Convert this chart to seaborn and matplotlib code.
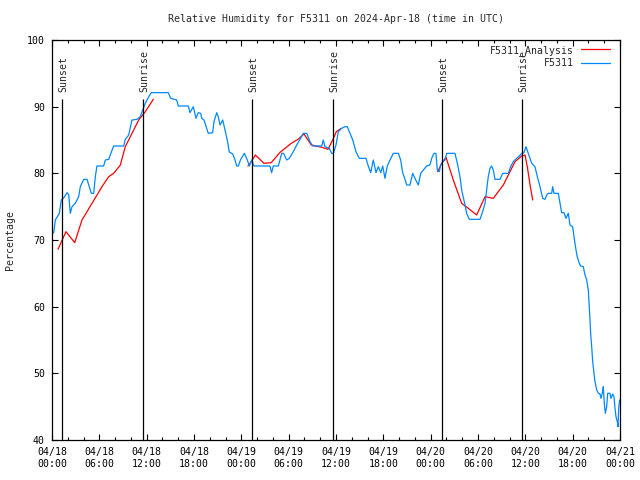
import matplotlib
matplotlib.use("Agg")
import matplotlib.pyplot as plt
from matplotlib.ticker import MultipleLocator
from matplotlib.lines import Line2D
import numpy as np
import pandas as pd
import seaborn as sns

# ---------------- data (hours since 2024-04-18 00:00 UTC) ----------------
obs_hours = [0.22, 0.42, 0.93, 1.18, 1.48, 1.90, 2.12, 2.32, 2.54, 2.95, 3.38, 3.59, 4.02, 4.44,
             4.73, 4.98, 5.29, 5.49, 5.70, 6.55, 6.76, 7.19, 7.52, 7.82, 9.09, 9.29, 9.72, 10.14,
             10.77, 11.19, 11.50, 11.83, 12.26, 12.59, 14.74, 15.05, 15.81, 16.01, 17.28, 17.49,
             17.91, 18.25, 18.54, 18.85, 18.98, 19.27, 19.61, 19.81, 20.37, 20.53, 20.88, 21.08,
             21.30, 21.64, 21.93, 22.22, 22.47, 22.91, 23.20, 23.41, 23.62, 23.92, 24.38, 24.76,
             25.01, 25.31, 25.61, 27.63, 27.84, 28.05, 28.69, 29.12, 29.35, 29.75, 30.08, 30.59,
             31.02, 31.44, 31.85, 32.29, 32.70, 33.05, 34.19, 34.39, 34.60, 35.15, 35.45, 35.66,
             36.00, 36.29, 36.72, 37.14, 37.43, 37.77, 38.12, 38.53, 38.95, 39.80, 40.09, 40.40,
             40.73, 41.07, 41.36, 41.67, 41.92, 42.21, 42.50, 42.85, 43.26, 43.90, 44.20, 44.45,
             44.75, 44.96, 45.38, 45.72, 46.01, 46.43, 46.74, 47.07, 47.50, 47.91, 48.13, 48.42,
             48.67, 48.84, 49.09, 49.27, 49.52, 49.82, 50.03, 51.08, 51.38, 51.72, 51.93, 52.35,
             52.56, 52.89, 54.25, 54.59, 54.89, 55.10, 55.30, 55.52, 55.73, 55.94, 56.15, 56.79,
             57.13, 57.84, 58.14, 58.47, 58.90, 59.23, 59.54, 59.83, 60.08, 60.37, 60.81, 61.22,
             61.52, 61.86, 62.20, 62.49, 62.71, 62.91, 63.34, 63.46, 63.63, 64.18, 64.39, 64.60,
             64.90, 65.15, 65.45, 65.66, 66.00, 66.17, 66.42, 66.58, 66.84, 67.02, 67.35, 67.56,
             67.78, 67.98, 68.11, 68.20, 68.28, 68.41, 68.54, 68.70, 68.83, 69.05, 69.25, 69.46,
             69.59, 69.80, 69.88, 70.01, 70.14, 70.31, 70.44, 70.73, 70.86, 71.07, 71.24, 71.37,
             71.49, 71.66, 71.75, 71.83, 71.96]
obs_rh = [71.05, 73, 74, 76, 76.3, 77.1, 76.8, 74, 75, 75.5, 76.5, 78, 79.1, 79.1,
          78, 77, 77, 79.5, 81.1, 81.1, 82, 82.1, 83.2, 84.1, 84.1, 85.1, 85.75, 88,
          88.1, 88.5, 89.5, 90.5, 91.5, 92.1, 92.1, 91.25, 91, 90.1, 90.1, 89.1,
          90, 88.25, 89.1, 89, 88.25, 88, 86.75, 86, 86.1, 87.75, 89.1, 88.5,
          87.25, 88, 86.5, 85, 83.2, 82.9, 82, 81.1, 81.1, 82.1, 83, 82,
          81.1, 82, 81.1, 81.1, 80.1, 81.1, 81.1, 83, 83, 82, 82.25, 83.25,
          84.25, 85.1, 86, 86, 84.75, 84.1, 84.1, 85, 84, 83.75, 83, 83,
          84.25, 86.25, 86.75, 87, 87, 86, 85, 83.25, 82.25, 82.25, 81.1, 80.1,
          82, 80.1, 81, 80.1, 81.1, 79.25, 81.1, 82, 83, 83, 82, 80.1,
          79.1, 78.25, 78.25, 80, 79.25, 78.25, 80, 80.5, 81.1, 81.25, 82.25, 83,
          83, 80.5, 80.25, 81.25, 81.75, 82, 83, 83, 81.5, 79.5, 77.5, 75.25,
          74, 73.1, 73.1, 74.25, 75.5, 77.5, 79.5, 80.75, 81.1, 80.5, 79.1, 79.1,
          80, 80, 81, 81.75, 82.25, 82.6, 83, 83.1, 84, 83, 81.5, 81,
          79.5, 78, 76.25, 76.1, 76.75, 77, 77, 78, 77, 77, 75.5, 74.1,
          74.1, 73.25, 74, 72.25, 72, 70.5, 68.5, 67.5, 66.5, 66.1, 66, 64.75,
          64, 62.5, 60, 58, 56, 54, 51.75, 50, 48.75, 47.5, 47, 46.9,
          46.25, 47.25, 48, 45.5, 44, 45, 47, 47, 46.25, 46.9, 46.5, 44.75,
          43.5, 42.75, 42, 44.75, 46]

ana_hours = [0.76, 1.77, 2.88, 3.80, 5.07, 6.34, 7.19, 7.82, 8.66, 9.29, 10.14, 10.99, 11.83, 12.84,
             24.84, 25.26, 25.77, 26.87, 27.80, 28.86, 30.33, 31.18, 31.94, 32.87, 34.22, 34.99,
             35.62, 36.04, 36.67,
             48.89, 49.40, 49.94, 50.87, 51.93, 52.77, 53.83, 54.89, 55.94, 57.21, 58.69, 59.54,
             59.96, 60.25, 60.60, 60.93]
ana_rh = [68.6, 71.25, 69.6, 73, 75.5, 78, 79.5, 80, 81.25, 84, 86, 88, 89.25, 91.1,
          81.1, 81.75, 82.75, 81.5, 81.6, 83.1, 84.5, 85.1, 85.9, 84.25, 83.9, 83.6,
          85.1, 86.25, 86.75,
          80.25, 81.5, 82.4, 79, 75.5, 74.75, 73.75, 76.5, 76.25, 78.25, 81.75, 82.6,
          82.75, 81, 78.25, 76]
ana_run = [1] * 14 + [2] * 15 + [3] * 16

sun_hours = [1.31, 11.57, 25.39, 35.66, 49.46, 59.62]
sun_labels = ["Sunset", "Sunrise", "Sunset", "Sunrise", "Sunset", "Sunrise"]

xtick_hours = [0, 6, 12, 18, 24, 30, 36, 42, 48, 54, 60, 66, 72]
xtick_labels = ["04/18\n00:00", "04/18\n06:00", "04/18\n12:00", "04/18\n18:00",
                "04/19\n00:00", "04/19\n06:00", "04/19\n12:00", "04/19\n18:00",
                "04/20\n00:00", "04/20\n06:00", "04/20\n12:00", "04/20\n18:00",
                "04/21\n00:00"]
yticks = [40, 50, 60, 70, 80, 90, 100]

series_names = ["F5311_Analysis", "F5311"]
title = "Relative Humidity for F5311 on 2024-Apr-18 (time in UTC)"
ylabel = "Percentage"

# ---------------- plotting ----------------
sns.set_style("ticks")
FONT = "DejaVu Sans Mono"
FS = 7.15
plt.rcParams["font.family"] = [FONT]
plt.rcParams["font.size"] = FS

obs = pd.DataFrame({"hour": obs_hours, "rh": obs_rh})
ana = pd.DataFrame({"hour": ana_hours, "rh": ana_rh, "run": ana_run})

fig = plt.figure(figsize=(6.4, 4.8), dpi=100)
ax = fig.add_axes([52 / 640, 40 / 480, 568 / 640, 400 / 480])

BLUE = "#0088ff"
RED = "#ff0000"
LW = 0.9

sns.lineplot(data=ana, x="hour", y="rh", units="run", estimator=None, color=RED,
             linewidth=LW, ax=ax, legend=False)
sns.lineplot(data=obs, x="hour", y="rh", color=BLUE, linewidth=LW, ax=ax,
             estimator=None, legend=False)

ax.vlines(sun_hours, 40, 91.1, colors="black", linewidth=LW)
for h, lab in zip(sun_hours, sun_labels):
    ax.text(h + 0.12, 92.2, lab, rotation=90, ha="center", va="bottom",
            fontsize=FS, family=FONT)

ax.set_xlim(0, 72)
ax.set_ylim(40, 100)
ax.set_xticks(xtick_hours)
ax.set_xticklabels(xtick_labels)
ax.xaxis.set_minor_locator(MultipleLocator(2))
ax.set_yticks(yticks)
ax.set_yticklabels([str(v) for v in yticks])
ax.tick_params(which="both", direction="in", top=True, right=True, width=0.8,
               labelsize=FS, colors="black")
ax.tick_params(which="major", length=4, pad=5)
ax.tick_params(which="minor", length=2.2)
for s in ax.spines.values():
    s.set_visible(True)
    s.set_linewidth(LW)
    s.set_color("black")

ax.set_xlabel("")
ax.set_ylabel(ylabel, fontsize=FS, labelpad=9)
fig.text(336 / 640, 1 - 19 / 480, title, ha="center", va="center", fontsize=FS, family=FONT)

handles = [Line2D([], [], color=RED, linewidth=LW), Line2D([], [], color=BLUE, linewidth=LW)]
leg = ax.legend(handles, series_names, loc="upper right", markerfirst=False, frameon=False,
                fontsize=FS, handlelength=2.9, handletextpad=0.7, labelspacing=0.25,
                borderaxespad=0.3, bbox_to_anchor=(0.994, 1.005))

fig.savefig("out.png", dpi=100)
